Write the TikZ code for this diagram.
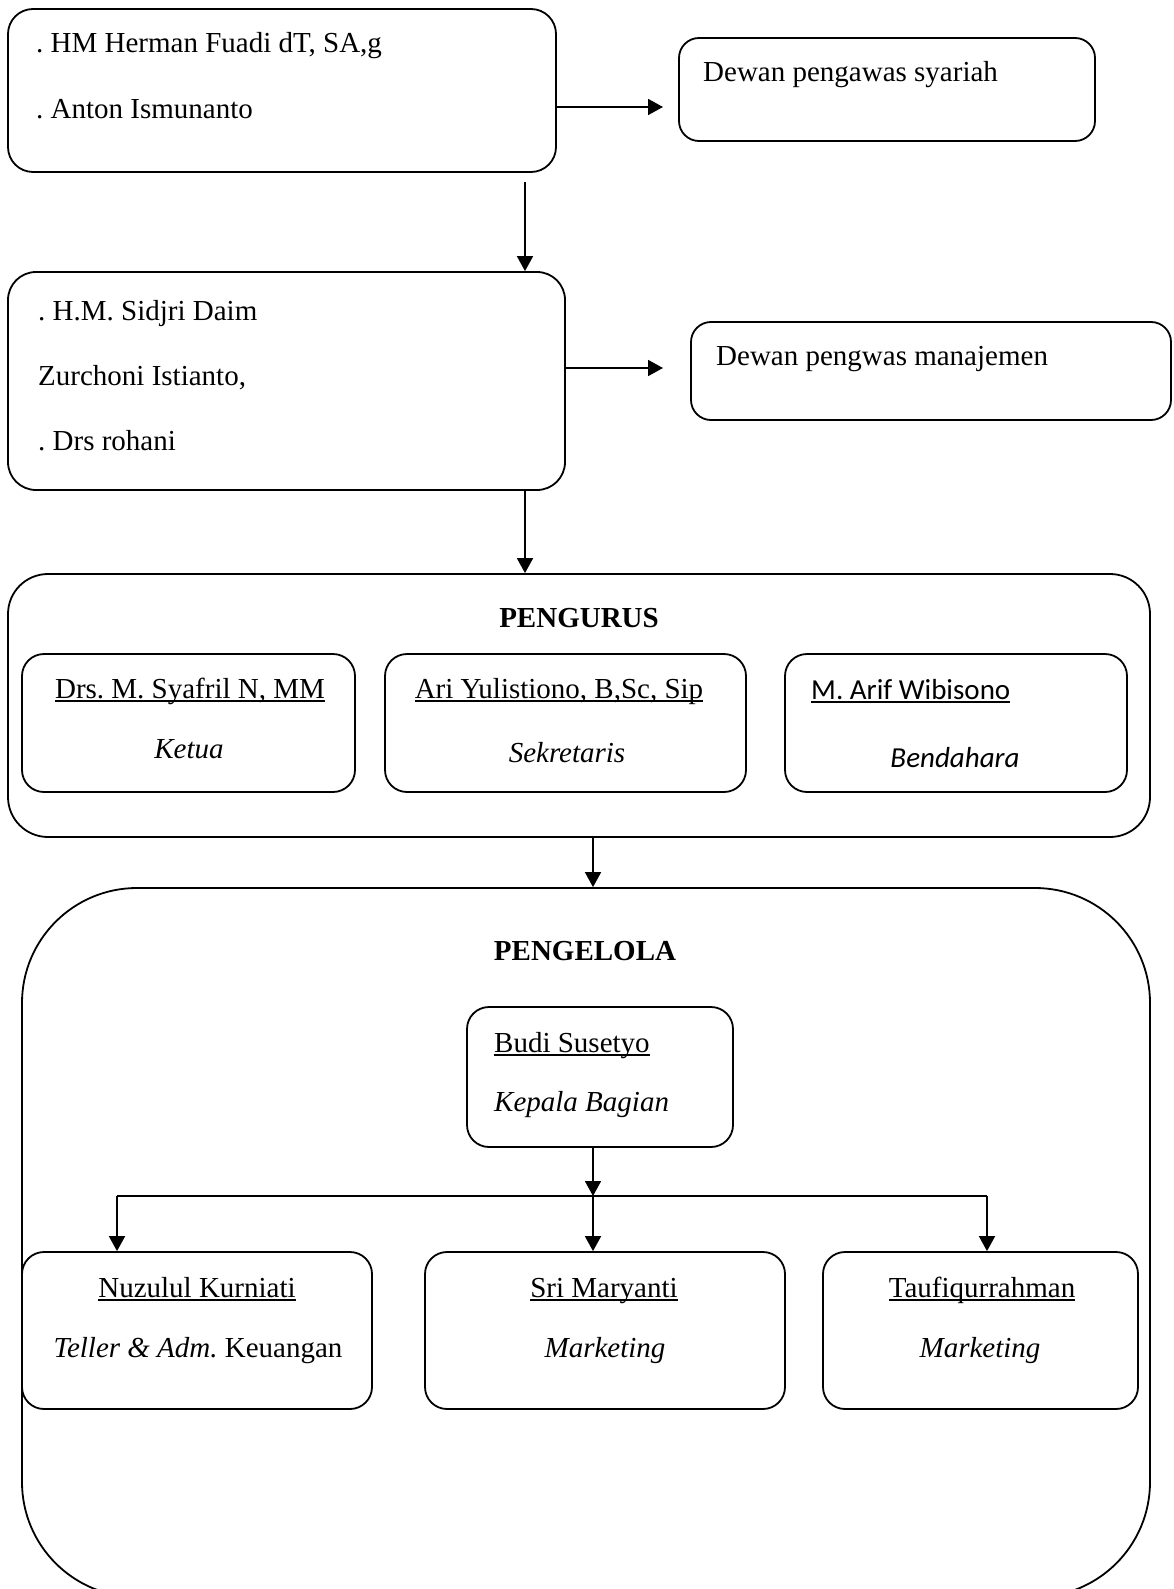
\documentclass[tikz,border=0pt]{standalone}
\usepackage{fontspec}
\setmainfont{Liberation Serif}
\newfontfamily\calib{Carlito}
\usetikzlibrary{arrows.meta}
\frenchspacing
\newcommand\fsz{\fontsize{29}{34}\selectfont}
\newcommand\myul[1]{\setbox0=\hbox{#1}\rlap{\rule[-4pt]{\wd0}{1.6pt}}\box0}
\begin{document}
\begin{tikzpicture}[x=1pt,y=-1pt,
  box/.style={draw, line width=1.8pt, rounded corners=22pt, inner sep=0pt},
  arr/.style={line width=1.8pt, -{Triangle[length=15pt,width=16pt]}},
  txt/.style={inner sep=0pt, anchor=base west, font=\fsz},
  ctxt/.style={inner sep=0pt, anchor=base, font=\fsz}]
\useasboundingbox (0,0) rectangle (1173,1589);
\fill[white] (0,0) rectangle (1173,1589);
\clip (0,0) rectangle (1173,1589);
% boxes
\node[box, rounded corners=25pt, minimum width=548pt, minimum height=163pt] (b1) at (282,90.5) {};
\node[box, rounded corners=20pt, minimum width=416pt, minimum height=103pt] (syar) at (887,89.5) {};
\node[box, rounded corners=28pt, minimum width=557pt, minimum height=218pt] (b2) at (286.5,381) {};
\node[box, rounded corners=20pt, minimum width=480pt, minimum height=98pt] (mana) at (931,371) {};
\node[box, rounded corners=40pt, minimum width=1142pt, minimum height=263pt] (peng) at (579,705.5) {};
\node[box, minimum width=333pt, minimum height=138pt] (ketua) at (188.5,723) {};
\node[box, minimum width=361pt, minimum height=138pt] (sekr) at (565.5,723) {};
\node[box, minimum width=342pt, minimum height=138pt] (bend) at (956,723) {};
\node[box, rounded corners=115pt, minimum width=1128pt, minimum height=709pt] (pgl) at (586,1242.5) {};
\node[box, minimum width=266pt, minimum height=140pt] (budi) at (600,1077) {};
\node[box, minimum width=350pt, minimum height=157pt] (nuz) at (197,1330.5) {};
\node[box, minimum width=360pt, minimum height=157pt] (sri) at (605,1330.5) {};
\node[box, minimum width=315pt, minimum height=157pt] (tau) at (980.5,1330.5) {};
% texts
\node[txt] (t1a) at (36,53) {. HM Herman Fuadi dT, SA,g};
\node[txt] (t1b) at (36,119) {. Anton Ismunanto};
\node[txt] (tsyar) at (703,82) {Dewan pengawas syariah};
\node[txt] (t2a) at (38,320) {. H.M. Sidjri Daim};
\node[txt] (t2b) at (38,385) {Zurchoni Istianto,};
\node[txt] (t2c) at (38,450) {. Drs rohani};
\node[txt] (tmana) at (716,365) {Dewan pengwas manajemen};
\node[ctxt, font=\fsz\bfseries] (tpeng) at (579,627) {PENGURUS};
\node[ctxt] (tketn) at (190,698) {\myul{Drs. M. Syafril N, MM}};
\node[ctxt, font=\fsz\itshape] (tketr) at (189,758) {Ketua};
\node[ctxt] (tsekn) at (559,698) {\myul{Ari Yulistiono, B,Sc, Sip}};
\node[ctxt, font=\fsz\itshape] (tsekr) at (567,762) {Sekretaris};
\node[txt, font=\fsz\calib] (tbenn) at (811,699) {\myul{M. Arif Wibisono}};
\node[ctxt, font=\fsz\calib\itshape] (tbenr) at (955,767) {Bendahara};
\node[ctxt, font=\fsz\bfseries] (tpgl) at (585,960) {PENGELOLA};
\node[txt] (tbudn) at (494,1052) {\myul{Budi Susetyo}};
\node[txt, font=\fsz\itshape] (tbudr) at (494,1111) {Kepala Bagian};
\node[ctxt] (tnuzn) at (197,1297) {\myul{Nuzulul Kurniati}};
\node[ctxt] (tnuzr) at (198,1357) {\textit{Teller \& Adm.} Keuangan};
\node[ctxt] (tsrin) at (604,1297) {\myul{Sri Maryanti}};
\node[ctxt, font=\fsz\itshape] (tsrir) at (605,1357) {Marketing};
\node[ctxt] (ttaun) at (982,1297) {\myul{Taufiqurrahman}};
\node[ctxt, font=\fsz\itshape] (ttaur) at (980,1357) {Marketing};
% connectors
\coordinate (a1e) at (663,107);
\draw[arr] (b1.east |- a1e) -- (a1e);
\coordinate (a2e) at (663,368);
\draw[arr] (b2.east |- a2e) -- (a2e);
\coordinate (a3s) at (525,182);
\draw[arr] (a3s) -- (a3s |- b2.north);
\draw[arr] (a3s |- b2.south) -- (a3s |- peng.north);
\coordinate (a5) at (593,0);
\draw[arr] (a5 |- peng.south) -- (a5 |- pgl.north);
\coordinate (j) at (593,1196);
\coordinate (jl) at (117,1196);
\coordinate (jr) at (987,1196);
\draw[arr] (j |- budi.south) -- (j);
\draw[line width=1.8pt] (jl) -- (jr);
\draw[arr] (jl) -- (jl |- nuz.north);
\draw[arr] (j) -- (j |- sri.north);
\draw[arr] (jr) -- (jr |- tau.north);
\end{tikzpicture}
\end{document}
